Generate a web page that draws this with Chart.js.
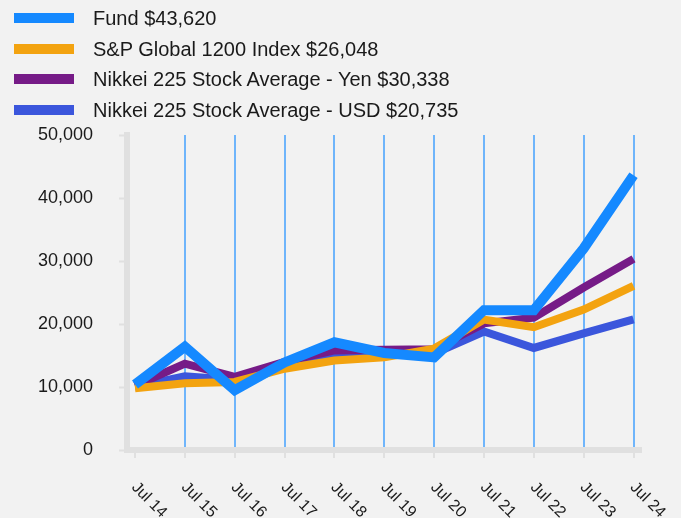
<!DOCTYPE html>
<html>
<head>
<meta charset="utf-8">
<script src="https://cdn.jsdelivr.net/npm/chart.js@4.4.1/dist/chart.umd.min.js"></script>
<style>
  html, body { margin: 0; padding: 0; background: #f2f2f2; }
  #wrap { position: relative; width: 681px; height: 518px; }
  #legend { position: absolute; left: 0; top: 0; font-family: "Liberation Sans", Arial, sans-serif; font-size: 20px; color: #1a1a1a; }
  .row { position: absolute; left: 0; height: 30px; white-space: nowrap; }
  .sw { position: absolute; left: 14px; width: 60px; height: 10px; }
  .lbl { position: absolute; left: 93px; line-height: 20px; }
</style>
</head>
<body>
<div id="wrap">
  <canvas id="growthChart" width="681" height="518"></canvas>
  <div id="legend"></div>
</div>
<script>
// Data
const categories = ["Jul 14", "Jul 15", "Jul 16", "Jul 17", "Jul 18", "Jul 19", "Jul 20", "Jul 21", "Jul 22", "Jul 23", "Jul 24"];
const seriesNames = ["Fund $43,620", "S&P Global 1200 Index $26,048", "Nikkei 225 Stock Average - Yen $30,338", "Nikkei 225 Stock Average - USD $20,735"];
const fund = [10400, 16400, 9500, 13900, 17100, 15400, 14700, 22200, 22200, 32000, 43620];
const spGlobal = [9800, 10600, 10800, 12900, 14200, 14700, 16100, 20700, 19500, 22300, 26048];
const nikkeiYen = [10200, 13700, 11600, 14000, 15800, 15900, 16000, 20100, 21000, 25800, 30338];
const nikkeiUsd = [10000, 11700, 11100, 13600, 15300, 15100, 15300, 18800, 16200, 18500, 20735];
const yTicks = [0, 10000, 20000, 30000, 40000, 50000];

const colors = ["#1589ff", "#f3a310", "#761b87", "#3b56dc"];
const widths = [10, 8, 8, 8];
const allSeries = [fund, spGlobal, nikkeiYen, nikkeiUsd];

const datasets = allSeries.map((vals, s) => ({
  label: seriesNames[s],
  data: vals.map((v, i) => ({ x: i, y: v })),
  borderColor: colors[s],
  backgroundColor: colors[s],
  borderWidth: widths[s],
  pointRadius: 0,
  tension: 0
}));

// Rotated category labels (text runs down-right from each tick)
const xLabelPlugin = {
  id: 'xLabels',
  afterDraw(chart) {
    const ctx = chart.ctx;
    const xs = chart.scales.x;
    ctx.save();
    ctx.font = '16px "Liberation Sans", Arial, sans-serif';
    ctx.fillStyle = '#1a1a1a';
    ctx.textAlign = 'left';
    ctx.textBaseline = 'middle';
    categories.forEach((c, i) => {
      ctx.save();
      ctx.translate(xs.getPixelForValue(i) - 1, 485);
      ctx.rotate(Math.PI / 4);
      ctx.fillText(c, 0, 0);
      ctx.restore();
    });
    ctx.restore();
  }
};

const config = {
  type: 'line',
  data: { datasets: datasets },
  options: {
    responsive: false,
    animation: false,
    layout: { padding: { left: 12, top: 135, right: 40, bottom: 60 } },
    plugins: { legend: { display: false }, tooltip: { enabled: false } },
    scales: {
      x: {
        type: 'linear',
        min: -0.16,
        max: 10.15,
        afterBuildTicks: (scale) => { scale.ticks = categories.map((c, i) => ({ value: i })); },
        ticks: { display: false },
        grid: {
          color: (ctx) => ctx.index === 0 ? 'rgba(0,0,0,0)' : '#6fb5fb',
          lineWidth: 2,
          tickColor: '#e0e0e0',
          tickWidth: 2,
          tickLength: 8
        },
        border: { color: '#e0e0e0', width: 6 }
      },
      y: {
        min: 0,
        max: 50000,
        afterBuildTicks: (scale) => { scale.ticks = yTicks.map(v => ({ value: v })); },
        ticks: {
          padding: 26,
          color: '#1a1a1a',
          font: { family: '"Liberation Sans", Arial, sans-serif', size: 18 },
          callback: (v) => v.toLocaleString('en-US')
        },
        grid: {
          drawOnChartArea: false,
          tickColor: '#e0e0e0',
          tickWidth: 2,
          tickLength: 8
        },
        border: { color: '#e0e0e0', width: 6 }
      }
    }
  },
  plugins: [xLabelPlugin]
};

// HTML legend, one entry per row
const legendEl = document.getElementById('legend');
const rowCenters = [18, 48.5, 79, 109.5];
seriesNames.forEach((name, s) => {
  const row = document.createElement('div');
  row.className = 'row';
  row.style.top = (rowCenters[s] - 15) + 'px';
  const sw = document.createElement('div');
  sw.className = 'sw';
  sw.style.top = '10px';
  sw.style.background = colors[s];
  const lbl = document.createElement('div');
  lbl.className = 'lbl';
  lbl.style.top = '5px';
  lbl.textContent = name;
  row.appendChild(sw);
  row.appendChild(lbl);
  legendEl.appendChild(row);
});

const growthChart = new Chart(document.getElementById('growthChart'), config);
</script>
</body>
</html>
